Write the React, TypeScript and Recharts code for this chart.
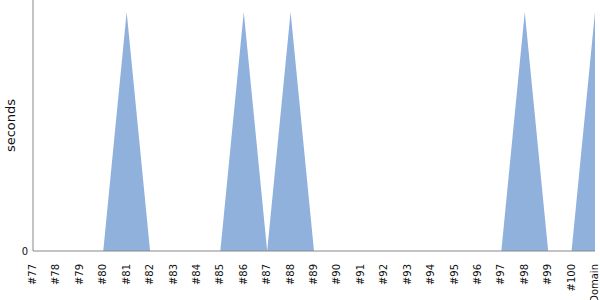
import { AreaChart, Area, XAxis, YAxis } from 'recharts'

const categories = [
  '#77', '#78', '#79', '#80', '#81', '#82', '#83', '#84', '#85', '#86', '#87', '#88',
  '#89', '#90', '#91', '#92', '#93', '#94', '#95', '#96', '#97', '#98', '#99', '#100', 'Domain',
]
const seconds = [0, 0, 0, 0, 1, 0, 0, 0, 0, 1, 0, 1, 0, 0, 0, 0, 0, 0, 0, 0, 0, 1, 0, 0, 1]
const yTicks = [0]

const data = categories.map((name, i) => ({ name, seconds: seconds[i] }))

const FONT = '"DejaVu Sans", sans-serif'

function RotatedTick(props: any) {
  const { x, y, payload } = props
  return (
    <text
      x={0}
      y={0}
      dy="0.35em"
      transform={`translate(${x - 0.5},${y + 5}) rotate(-90)`}
      textAnchor="end"
      style={{ fontSize: 10, fontFamily: FONT, fill: '#111' }}
    >
      {payload.value}
    </text>
  )
}

function ZeroTick(props: any) {
  const { x, y, payload } = props
  return (
    <text x={x + 3} y={y} dy="0.35em" textAnchor="end" style={{ fontSize: 10, fontFamily: FONT, fill: '#111' }}>
      {payload.value}
    </text>
  )
}

export default function App() {
  return (
    <div style={{ position: 'fixed', left: 0, top: 0, width: 600, height: 300, background: '#fff', fontFamily: FONT }}>
      <AreaChart width={600} height={300} data={data} margin={{ top: 0, right: 5, left: 0, bottom: 0 }}>
        <XAxis
          dataKey="name"
          interval={0}
          height={49}
          tickLine={false}
          stroke="#888"
          tick={<RotatedTick />}
        />
        <YAxis
          width={33}
          domain={[0, 1.05]}
          ticks={yTicks}
          tickLine={false}
          stroke="#888"
          tick={<ZeroTick />}
          label={{
            value: 'seconds',
            angle: -90,
            position: 'insideLeft',
            dx: 5,
            style: { fontSize: 13, fontFamily: FONT, fill: '#111', textAnchor: 'middle' },
          }}
        />
        <Area
          type="linear"
          dataKey="seconds"
          stroke="none"
          fill="#8fb1dc"
          fillOpacity={1}
          isAnimationActive={false}
        />
      </AreaChart>
    </div>
  )
}
